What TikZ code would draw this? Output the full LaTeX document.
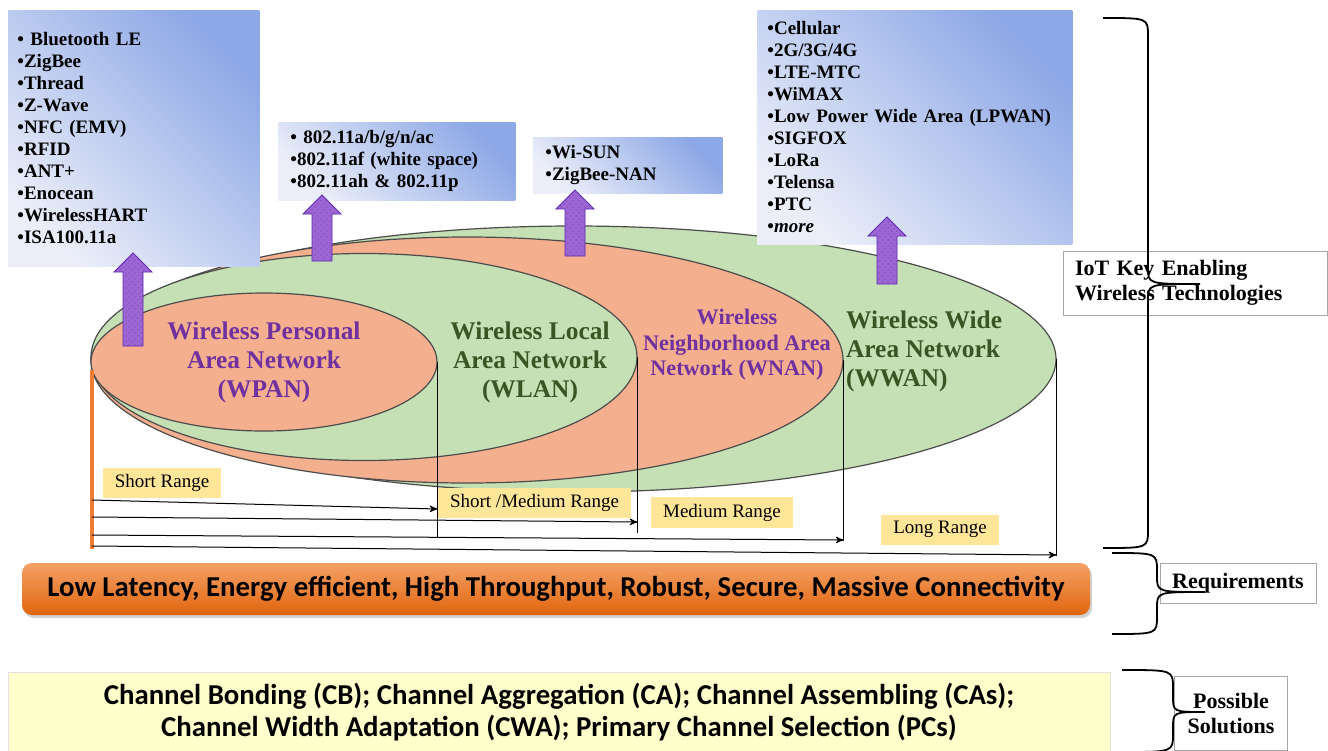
\documentclass[tikz,border=0pt]{standalone}
\usepackage{fontspec}
\setmainfont{Liberation Serif}
\newfontfamily\calibfont{Carlito}
\usepackage{tikz}
\usetikzlibrary{arrows}
\usetikzlibrary{positioning}
\usetikzlibrary{shapes.geometric}
\usetikzlibrary{shadows}
\usetikzlibrary{patterns}
\definecolor{ellgreen}{HTML}{C5E0B4}
\definecolor{ellorange}{HTML}{F4B08E}
\definecolor{netpurple}{HTML}{7030A0}
\definecolor{netgreen}{HTML}{375623}
\definecolor{listlight}{HTML}{EBEEF9}
\definecolor{listblue}{HTML}{8DA8E6}
\definecolor{rangeyellow}{HTML}{FFE699}
\definecolor{rangeorange}{HTML}{ED7D31}
\definecolor{barlight}{HTML}{F4A167}
\definecolor{bardark}{HTML}{E0650C}
\definecolor{solyellow}{HTML}{FFFFCC}
\definecolor{uppurple}{HTML}{9D66D6}
\tikzset{
    pics/techup/.style={
        code={\draw[upfill] (-10,0) -- (-10,-#1+19) -- (-19,-#1+19) -- (0,-#1)
                            -- (19,-#1+19) -- (10,-#1+19) -- (10,0) -- cycle;}
    }
}
\newcommand{\techbrace}[6]{%
  \draw[bracepen] (#1,#4) .. controls (#2,#4) .. (#2,#4+18)
      -- (#2,#5-16) .. controls (#2,#5) .. (#3,#5)
      .. controls (#2,#5) .. (#2,#5+16)
      -- (#2,#6-18) .. controls (#2,#6) .. (#1,#6);}

\begin{document}
\begin{tikzpicture}[x=0.5pt, y=-0.5pt,
                    >=stealth',
                    ell/.style={ellipse, draw=black!70, line width=0.6pt, inner sep=0pt},
                    netname/.style={align=center, font=\bfseries\fontsize{12.7}{14.5}\selectfont},
                    techbox/.style={rectangle, anchor=north west, inner ysep=0pt, align=left,
                                    left color=listlight, right color=listblue, shading angle=135,
                                    font=\bfseries\fontsize{9.5}{11}\selectfont},
                    rangebox/.style={fill=rangeyellow, minimum height=15pt, inner xsep=6pt,
                                     font=\fontsize{9.5}{11}\selectfont},
                    rangearrow/.style={->, line width=0.5pt},
                    rangeline/.style={line width=0.5pt},
                    upfill/.style={draw=netpurple!80!blue, line width=0.4pt, fill=uppurple,
                                   postaction={pattern=crosshatch dots, pattern color=netpurple!80}},
                    reqbar/.style={rounded corners=5pt, top color=barlight, bottom color=bardark,
                                   minimum width=534pt, minimum height=26pt,
                                   font=\calibfont\bfseries\fontsize{14.4}{16}\selectfont,
                                   drop shadow={opacity=0.35, shadow xshift=1pt, shadow yshift=-1.5pt}},
                    solbox/.style={fill=solyellow, draw=black!12, minimum width=551pt, minimum height=40pt,
                                   align=center, font=\calibfont\bfseries\fontsize{14.4}{16}\selectfont},
                    keybox/.style={draw=black!35, fill=white, font=\bfseries\fontsize{11}{12.5}\selectfont},
                    bracepen/.style={line width=0.9pt}
                    ]
  \useasboundingbox (0,0) rectangle (1328,750);
  \fill[white] (0,0) rectangle (1328,750);

  % network ellipses
  \node[ell, fill=ellgreen,  minimum width=482pt, minimum height=133pt]   (wwan) at (574,359) {};
  \node[ell, fill=ellorange, minimum width=376pt, minimum height=123pt]   (wnan) at (467,360) {};
  \node[ell, fill=ellgreen,  minimum width=273pt, minimum height=103.5pt] (wlan) at (364,357) {};
  \node[ell, fill=ellorange, minimum width=173pt, minimum height=69pt]    (wpan) at (264,362) {};

  \node[netname, text=netpurple] (wpanname) at (264,362) {Wireless Personal\\Area Network\\(WPAN)};
  \node[netname, text=netgreen]  (wlanname) at (530,362) {Wireless Local\\Area Network\\(WLAN)};
  \node[netname, text=netpurple, font=\bfseries\fontsize{11.1}{12.75}\selectfont]
       (wnanname) at (737,345) {Wireless\\Neighborhood Area\\Network (WNAN)};
  \node[netname, text=netgreen, align=left, anchor=west]
       (wwanname) at (839,351) {Wireless Wide\\Area Network\\(WWAN)};

  % technology lists
  \node[techbox, inner xsep=4.5pt, text width=116.5pt, minimum height=128pt] (wpanlist) at (8,10)
       {• Bluetooth LE\\•ZigBee\\•Thread\\•Z-Wave\\•NFC (EMV)\\•RFID\\•ANT+\\•Enocean\\•WirelessHART\\•ISA100.11a};
  \node[techbox, inner xsep=6pt, text width=106.5pt, minimum height=39pt] (wlanlist) at (278,122)
       {• 802.11a/b/g/n/ac\\•802.11af (white space)\\•802.11ah \& 802.11p};
  \node[techbox, inner xsep=6pt, text width=82.5pt, minimum height=28pt] (wnanlist) at (533,137)
       {•Wi-SUN\\•ZigBee-NAN};
  \node[techbox, inner xsep=5pt, text width=147.5pt, minimum height=117pt] (wwanlist) at (757,10)
       {•Cellular\\•2G/3G/4G\\•LTE-MTC\\•WiMAX\\•Low Power Wide Area (LPWAN)\\•SIGFOX\\•LoRa\\•Telensa\\•PTC\\•\textit{more}};

  % ranges
  \coordinate (s1) at (92,500);
  \coordinate (s2) at (92,517);
  \coordinate (s3) at (92,535);
  \coordinate (s4) at (92,546);
  \coordinate (e1) at (wpan.east |- 0,509);
  \coordinate (e2) at (wlan.east |- 0,522);
  \coordinate (e3) at (wnan.east |- 0,540);
  \coordinate (e4) at (wwan.east |- 0,555);
  \draw[rangeline] (wpan.east) -- (wpan.east |- 0,537);
  \draw[rangeline] (wlan.east) -- (wlan.east |- 0,533);
  \draw[rangeline] (wnan.east) -- (wnan.east |- 0,541);
  \draw[rangeline] (wwan.east) -- (wwan.east |- 0,556);
  \draw[line width=2pt, draw=rangeorange] (92,370) -- (92,549);
  \draw[rangearrow] (s1) -- (e1);
  \draw[rangearrow] (s2) -- (e2);
  \draw[rangearrow] (s3) -- (e3);
  \draw[rangearrow] (s4) -- (e4);

  \node[rangebox] (shortr)  at (162,483)   {Short Range};
  \node[rangebox] (shortmr) at (534.5,503) {Short /Medium Range};
  \node[rangebox] (medr)    at (722,512.5) {Medium Range};
  \node[rangebox] (longr)   at (940,529.5) {Long Range};

  \pic at (133,346) {techup=93};
  \pic at (322,261) {techup=66};
  \pic at (575,256) {techup=66};
  \pic at (887,284) {techup=67};

  \node[reqbar] (req) at (556,589)
       {Low Latency, Energy efficient, High Throughput, Robust, Secure, Massive Connectivity};
  \node[solbox] (sol) at (559,712)
       {Channel Bonding (CB); Channel Aggregation (CA); Channel Assembling (CAs);\\
        Channel Width Adaptation (CWA); Primary Channel Selection (PCs)};

  % side labels
  \node[keybox, align=left, text width=120pt, inner xsep=6pt, minimum height=32pt] (iotkey) at (1195,283)
       {IoT Key Enabling\\Wireless Technologies};
  \node[keybox, minimum width=78pt, minimum height=20pt] (reqkey) at (1238,583) {Requirements};
  \node[keybox, align=center, minimum width=56.5pt, minimum height=37pt] (solkey) at (1231,713)
       {Possible\\Solutions};

  \techbrace{1103}{1148}{1200}{18}{284}{548}
  \techbrace{1112}{1157}{1205}{553}{592}{634}
  \techbrace{1122}{1173}{1205}{670}{712}{752}
\end{tikzpicture}
\end{document}
